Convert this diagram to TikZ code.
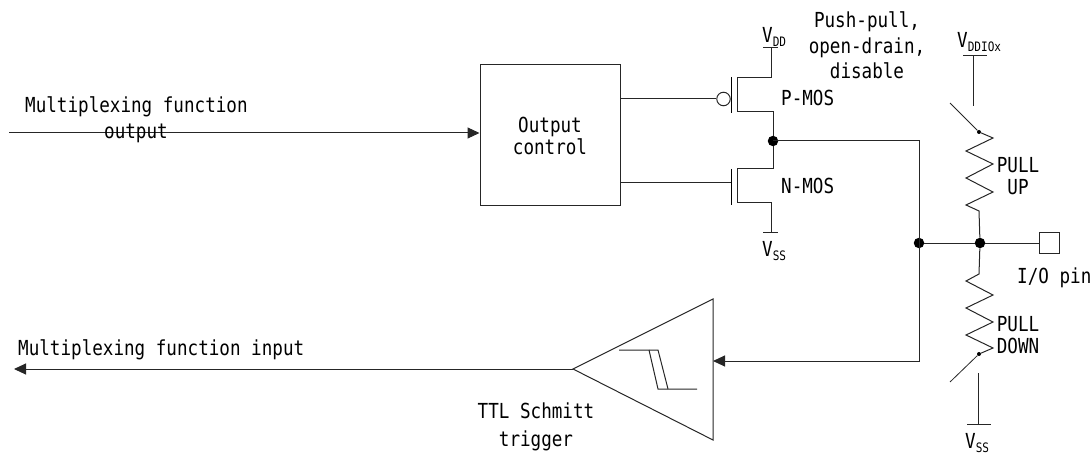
\documentclass[tikz,border=0pt]{standalone}
\usepackage{fontspec}
\setmainfont[FakeStretch=0.85]{DejaVu Sans Mono}
\usetikzlibrary{arrows.meta}
\tikzset{
  wire/.style={draw=black!85,line width=1pt},
  lab/.style={inner sep=0pt,font=\fontsize{20.7}{22}\selectfont,align=center,text=black},
  labl/.style={lab,anchor=west},
  dotnode/.style={circle,fill=black,inner sep=0pt,minimum size=10.5pt},
  smalldot/.style={circle,fill=black,inner sep=0pt,minimum size=4pt},
  tip/.style={-{Triangle[length=12pt,width=11pt]}},
  boxnode/.style={draw=black!85,line width=1pt,inner sep=0pt}
}
\newcommand{\vsub}[1]{V\raisebox{-4pt}{\fontsize{13}{13}\selectfont #1}}
\begin{document}
\begin{tikzpicture}[x=1pt,y=-1pt]
\useasboundingbox (0,0) rectangle (1091,454);
% output path
\node[boxnode,lab,minimum width=140pt,minimum height=141pt] (ctrl) at (550,135.5) {Output\\control};
\coordinate (inL) at (9,133);
\draw[wire,tip] (inL) -- (inL -| ctrl.west);
\node[labl] (t1) at (25,107) {Multiplexing function};
\node[lab] (t2) at (136,133) {output};
% P-MOS
\coordinate (pg) at (731,99);
\node[draw=black!85,line width=1pt,circle,fill=white,inner sep=0pt,minimum size=13.5pt] (bub) at (723.5,99) {};
\draw[wire] (ctrl.east |- pg) -- (bub.west);
\coordinate (pgt) at (731,77);
\coordinate (pgb) at (731,113);
\draw[black,line width=1pt] (pgt) -- (pgb);
\coordinate (vdd) at (771,48);
\coordinate (mid) at (773,141);
\draw[wire] (vdd) -- (771,78) -- (737,78) -- (737,112) -- (773,112) -- (mid);
\draw[wire] (763,48) -- (778,48);
% N-MOS
\coordinate (ngt) at (731,169);
\coordinate (ngb) at (731,205);
\coordinate (ng) at (731,183);
\draw[black,line width=1pt] (ngt) -- (ngb);
\draw[wire] (ctrl.east |- ng) -- (ng);
\coordinate (vssa) at (771,233);
\draw[wire] (mid) -- (773,169) -- (737,169) -- (737,203) -- (771,203) -- (vssa);
\draw[wire] (763,233) -- (778,233);
\node[dotnode] (dmid) at (mid) {};
% junctions
\node[dotnode] (j1) at (919,243) {};
\node[dotnode] (j2) at (980,243) {};
\node[boxnode,minimum size=20.5pt] (pin) at (1049.5,243) {};
\draw[wire] (j1) -- (j2) -- (pin.west);
% Schmitt
\coordinate (apex) at (573,369);
\coordinate (tr) at (713,299);
\coordinate (br) at (713,440);
\draw[wire,line join=miter] (apex) -- (tr) -- (br) -- cycle;
\coordinate (inS) at (713,361);
\draw[wire,tip] (mid) -- (919,141) -- (919,361) -- (inS);
\coordinate (outL) at (14,369);
\draw[wire,tip] (apex) -- (outL);
\draw[wire] (619,350) -- (658,350) -- (668,389);
\draw[wire] (649,350) -- (658,389) -- (697,389);
% pull up
\coordinate (vio) at (973,56);
\coordinate (vioB) at (973,106);
\draw[wire] (vio) -- (vioB);
\draw[wire] (963,56) -- (987,56);
\coordinate (sw1) at (950,103);
\node[smalldot] (pu) at (979,132) {};
\draw[wire,line width=0.8pt] (sw1) -- (pu);
\draw[wire,line join=miter] (pu) -- (993,138) -- (966,151) -- (993,164) -- (966,178) -- (993,192) -- (966,205) -- (979,211) -- (j2);
% pull down
\node[smalldot] (pd) at (979,354) {};
\draw[wire,line join=miter] (j2) -- (979,274) -- (966,281) -- (993,295) -- (966,308) -- (993,322) -- (966,335) -- (993,348) -- (pd);
\coordinate (sw2) at (950,382);
\draw[wire,line width=0.8pt] (pd) -- (sw2);
\coordinate (vs2t) at (978,373);
\coordinate (vs2b) at (978,424);
\draw[wire] (vs2t) -- (vs2b);
\draw[wire] (967,424) -- (991,424);
% labels
\node[labl] (lvdd) at (762,37) {\vsub{DD}};
\node[labl] (lvss) at (762,251) {\vsub{SS}};
\node[labl] (lp) at (781,98) {P-MOS};
\node[labl] (ln) at (781,186) {N-MOS};
\node[lab] (lpp) at (867,45.5) {Push-pull,\\[3.5pt]open-drain,\\[3.5pt]disable};
\node[labl] (lvio) at (957,42) {\vsub{DDIOx}};
\node[lab] (lpu) at (1018,176) {PULL\\UP};
\node[lab] (lpdn) at (1018,335) {PULL\\DOWN};
\node[labl] (lio) at (1017,278) {I/O pin};
\node[labl] (lvs2) at (965,443) {\vsub{SS}};
\node[lab] (lttl) at (536,427) {TTL Schmitt\\[6pt]trigger};
\node[labl] (lin) at (18,350) {Multiplexing function input};
\end{tikzpicture}
\end{document}
